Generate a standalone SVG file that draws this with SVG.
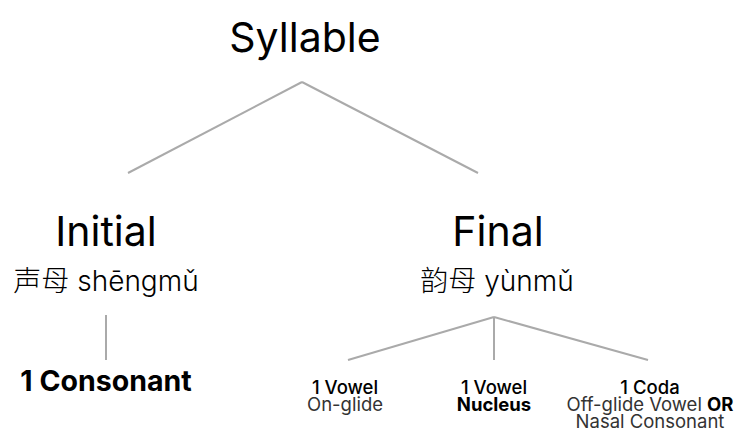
<svg xmlns="http://www.w3.org/2000/svg" width="736" height="435" viewBox="0 0 736 435">
<style>
text{font-family:Inter,"Noto Sans CJK SC",sans-serif;fill:#000;text-anchor:middle}
.h{font-size:41px}
.c{font-size:28px;font-weight:300}
.s{font-size:18.5px;font-weight:500}
.b{font-weight:700}
.l{fill:#333;font-weight:400}
line{stroke:#aaa;stroke-width:2}
</style>
<rect width="736" height="435" fill="#fff"/>
<g id="connectors">
<line x1="302" y1="82" x2="128" y2="173"/>
<line x1="302" y1="82" x2="478" y2="173"/>
<line x1="106" y1="315" x2="106" y2="360"/>
<line x1="494" y1="317" x2="348" y2="360"/>
<line x1="494" y1="317" x2="494" y2="360"/>
<line x1="494" y1="317" x2="648" y2="360"/>
</g>
<g id="syllable"><text class="h" x="305" y="52">Syllable</text></g>
<g id="initial"><text class="h" x="106" y="246">Initial</text><text class="c" x="106" y="291">声母 shēngmǔ</text></g>
<g id="final"><text class="h" x="498" y="246">Final</text><text class="c" x="497" y="291">韵母 yùnmǔ</text></g>
<g id="consonant"><text class="b" style="font-size:28.5px" x="106" y="391">1 Consonant</text></g>
<g id="onglide"><text class="s" x="345" y="394">1 Vowel</text><text class="s l" x="345" y="411">On-glide</text></g>
<g id="nucleus"><text class="s" x="494" y="394">1 Vowel</text><text class="s b" x="494" y="411">Nucleus</text></g>
<g id="coda"><text class="s" x="650" y="394">1 Coda</text><text class="s l" x="650" y="411">Off-glide Vowel <tspan class="b" style="fill:#000">OR</tspan></text><text class="s l" x="650" y="428">Nasal Consonant</text></g>
</svg>
